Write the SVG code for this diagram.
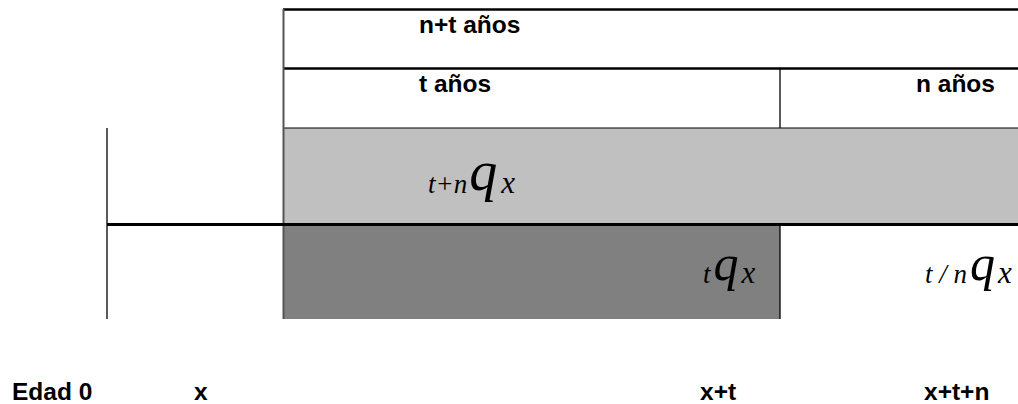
<svg xmlns="http://www.w3.org/2000/svg" width="1018" height="404" viewBox="0 0 1018 404">
<style>
.lbl{font-family:"Liberation Sans",Arial,sans-serif;font-weight:bold;font-size:24.5px;fill:#000}
.m{font-family:"Liberation Serif","Times New Roman",serif;font-style:italic;fill:#000}
.big{font-size:50px}
.big2{font-size:56px}
.sub{font-size:27px}
.subx{font-size:31px}
</style>
<rect width="1018" height="404" fill="#fff"/>
<g id="band-light">
<rect x="284" y="128" width="734" height="96" fill="#c0c0c0"/>
<text class="m" x="428" y="193"><tspan class="sub">t+n</tspan><tspan class="big2" dx="2" dy="-3">q</tspan><tspan class="subx" dx="4" dy="3">x</tspan></text>
</g>
<g id="band-dark">
<rect x="284" y="225" width="496" height="94" fill="#808080"/>
<text class="m" x="703" y="283"><tspan class="sub">t</tspan><tspan class="big" dx="3" dy="-3">q</tspan><tspan class="subx" dx="3" dy="3">x</tspan></text>
</g>
<g id="cell-right">
<text class="m" x="925" y="283"><tspan class="sub">t / n</tspan><tspan class="big" dx="3" dy="-3">q</tspan><tspan class="subx" dx="3" dy="3">x</tspan></text>
</g>
<g id="header">
<text class="lbl" x="419" y="33">n+t años</text>
<text class="lbl" x="419" y="92">t años</text>
<text class="lbl" x="916" y="92">n años</text>
</g>
<g id="lines" stroke="#000" fill="none">
<line x1="283" y1="9.5" x2="1018" y2="9.5" stroke-width="2.5"/>
<line x1="283" y1="68.5" x2="1018" y2="68.5" stroke-width="2.5"/>
<line x1="283" y1="128" x2="1018" y2="128" stroke-width="1.2"/>
<line x1="283.5" y1="9" x2="283.5" y2="319" stroke="#555" stroke-width="2"/>
<line x1="780" y1="68" x2="780" y2="128" stroke-width="1.3"/>
<line x1="780" y1="225" x2="780" y2="319" stroke-width="1.3"/>
<line x1="107" y1="128" x2="107" y2="319" stroke="#222" stroke-width="1.5"/>
<line x1="107" y1="224.5" x2="1018" y2="224.5" stroke-width="3.2"/>
</g>
<g id="axis">
<text class="lbl" x="12" y="400">Edad 0</text>
<text class="lbl" x="194" y="400">x</text>
<text class="lbl" x="700" y="400">x+t</text>
<text class="lbl" x="924" y="400">x+t+n</text>
</g>
</svg>
